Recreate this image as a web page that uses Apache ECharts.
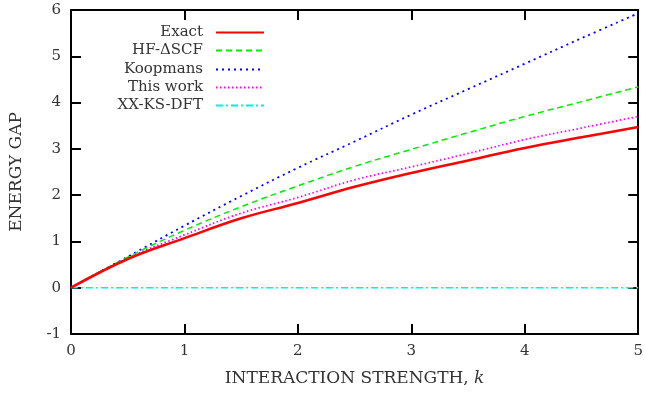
<!DOCTYPE html>
<html>
<head>
<meta charset="utf-8">
<script src="https://cdn.jsdelivr.net/npm/echarts@6/dist/echarts.min.js"></script>
<style>
  html, body { margin: 0; padding: 0; background: #fff; }
  #chart { width: 646px; height: 394px; }
</style>
</head>
<body>
<div id="chart"></div>
<script>
const kValues = [0, 0.5, 1, 1.5, 2, 2.5, 3, 3.5, 4, 4.5, 5];
const exact = [0, 0.62, 1.07, 1.50, 1.83, 2.18, 2.48, 2.75, 3.02, 3.25, 3.47];
const hfDeltaScf = [0, 0.66, 1.24, 1.75, 2.20, 2.62, 2.99, 3.35, 3.70, 4.02, 4.34];
const koopmans = [0, 0.67, 1.34, 1.98, 2.59, 3.16, 3.74, 4.29, 4.84, 5.39, 5.93];
const thisWork = [0, 0.64, 1.14, 1.61, 1.95, 2.33, 2.61, 2.90, 3.20, 3.45, 3.70];
const xxKsDft = [0, 0, 0, 0, 0, 0, 0, 0, 0, 0, 0];
const seriesNames = ["Exact", "HF-\u0394SCF", "Koopmans", "This work", "XX-KS-DFT"];

const chart = echarts.init(document.getElementById("chart"));
const font = "'DejaVu Serif', 'Liberation Serif', serif";
const txt = "#333";

const pairs = (ys) => kValues.map((k, i) => [k, ys[i]]);

const styles = [
  { color: "#ff0000", width: 2.5, type: "solid" },
  { color: "#00ee00", width: 1.5, type: [6, 4] },
  { color: "#0000ff", width: 1.8, type: [2, 4] },
  { color: "#ff00ff", width: 1.8, type: [1.5, 2.5] },
  { color: "#00eeee", width: 1.5, type: [7, 3, 2, 3] }
];
const allData = [exact, hfDeltaScf, koopmans, thisWork, xxKsDft];

const legendTops = [20, 38, 57, 75, 93];

// box frame: each side is an axis pinned (onZero) to a hidden helper axis whose zero sits on that edge
function frameAxis(zeroIdx, extra) {
  return Object.assign({
    type: "value",
    axisLine: { show: true, onZero: true, onZeroAxisIndex: zeroIdx, lineStyle: { color: "#000", width: 2 } },
    axisTick: { show: true, inside: true, length: 10, lineStyle: { color: "#000", width: 2 } },
    axisLabel: { show: false },
    splitLine: { show: false }
  }, extra);
}
const helperAxis = (min, max) => ({ type: "value", min: min, max: max, show: false });

const option = {
  animation: false,
  textStyle: { fontFamily: font },
  grid: { left: 69, right: 7, top: 10, bottom: 60 },
  legend: seriesNames.map((name, i) => ({
    data: [name],
    right: 376,
    top: legendTops[i],
    align: "right",
    itemWidth: 48,
    itemHeight: 10,
    itemStyle: { opacity: 0 },
    textStyle: { fontFamily: font, fontSize: 15, color: txt, padding: [0, 8, 0, 0] },
    selectedMode: false
  })),
  xAxis: [
    frameAxis(2, {
      min: 0, max: 5, interval: 1,
      position: "bottom",
      name: "INTERACTION STRENGTH, {i|k}",
      nameLocation: "middle",
      nameGap: 36,
      nameTextStyle: {
        fontFamily: font, fontSize: 17, color: txt,
        rich: { i: { fontFamily: font, fontStyle: "italic", fontSize: 17, color: txt } }
      },
      axisLabel: { show: true, fontFamily: font, fontSize: 15, color: txt, margin: 10 }
    }),
    frameAxis(3, { min: 0, max: 5, interval: 1, position: "top" }),
    helperAxis(-1, 0)
  ],
  yAxis: [
    frameAxis(0, {
      min: -1, max: 6, interval: 1,
      position: "left",
      name: "ENERGY GAP",
      nameLocation: "middle",
      nameGap: 46,
      nameTextStyle: { fontFamily: font, fontSize: 17, color: txt },
      axisLabel: { show: true, fontFamily: font, fontSize: 15, color: txt, margin: 10 }
    }),
    frameAxis(2, { min: -1, max: 6, interval: 1, position: "right" }),
    helperAxis(0, 1),
    helperAxis(-1, 0)
  ],
  series: seriesNames.map((name, i) => ({
    name: name,
    type: "line",
    smooth: 0.4,
    symbol: "none",
    xAxisIndex: 0,
    yAxisIndex: 0,
    lineStyle: styles[i],
    itemStyle: { color: styles[i].color },
    data: pairs(allData[i]),
    z: 10 - i
  }))
};

chart.setOption(option);
</script>
</body>
</html>
